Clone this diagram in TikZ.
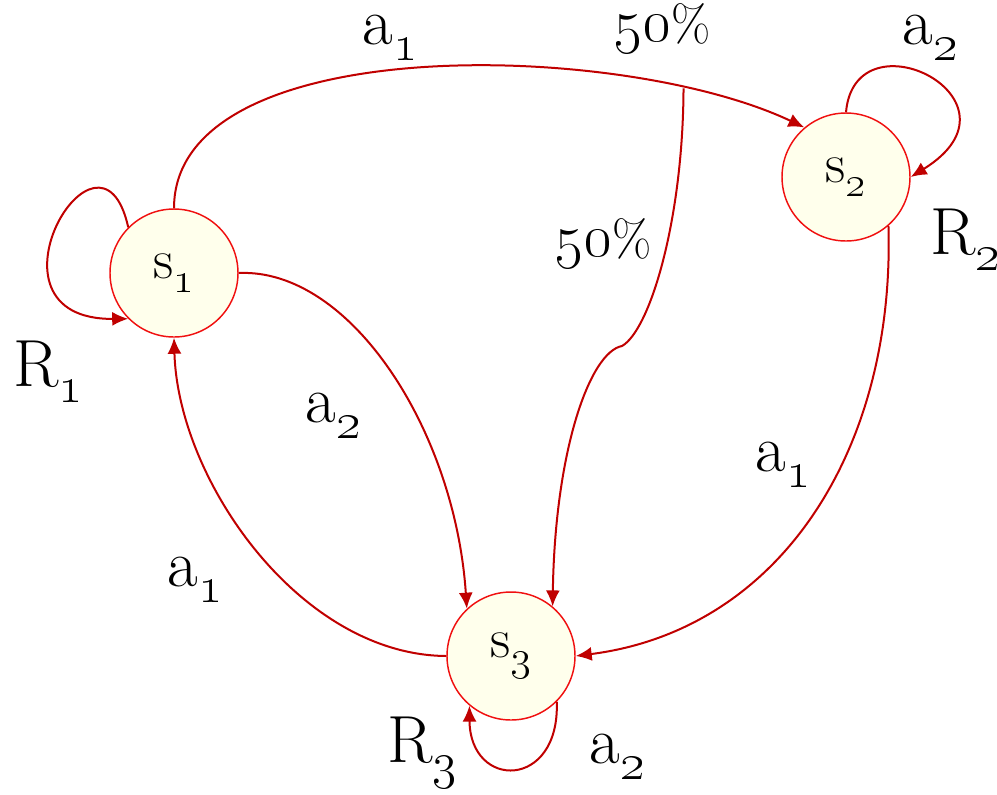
\documentclass[tikz,border=0pt]{standalone}
\usepackage{fix-cm}
\usepackage{tikz}
\usetikzlibrary{arrows.meta}
\definecolor{edgered}{RGB}{192,0,0}
\definecolor{ringred}{RGB}{240,16,16}
\definecolor{statefill}{RGB}{255,255,236}
\newcommand{\osf}[1]{{\fontencoding{TS1}\selectfont #1}}
\makeatletter
\newcommand{\osub}[1]{\raisebox{-0.24em}{\fontsize{\strip@pt\dimexpr0.78\dimexpr\f@size pt\relax\relax}{10}\selectfont\osf{#1}}}
\makeatother
\newcommand{\pct}[1]{\osf{#1}{\fontsize{38}{40}\selectfont\%}}

\begin{document}
\begin{tikzpicture}[x=0.75pt, y=-0.75pt,
  state/.style={circle, draw=ringred, line width=1.1pt, fill=statefill,
    minimum size=96pt, inner sep=0pt, font=\fontsize{42}{50}\selectfont},
  trans/.style={draw=edgered, line width=1.5pt, -{Latex[length=12pt,width=10.5pt]}},
  lbl/.style={font=\fontsize{50}{60}\selectfont, inner sep=0pt},
  pctlbl/.style={lbl, font=\fontsize{46}{56}\selectfont}]
  \useasboundingbox (0,0) rectangle (997,794);

  \node[state] (s1) at (174,273) {s\osub{1}};
  \node[state] (s2) at (846,177) {s\osub{2}};
  \node[state] (s3) at (511,656) {s\osub{3}};

  % self loops
  \draw[trans] (s1.135) .. controls (100,100) and (-30,320) .. (s1.225);
  \draw[trans] (s2.90) .. controls (855,10) and (1035,100) .. (s2.0);
  \draw[trans] (s3.-45) .. controls (560,790) and (470,790) .. (s3.-130);

  % a1 from s1, split 50% / 50%
  \draw[trans] (s1.90) .. controls (174,30) and (620,40) .. (s2.130)
    coordinate[pos=0.82] (split);
  \coordinate (kink) at (622,346);
  \draw[trans] (split) .. controls (683,220) and (650,330) .. (kink)
    .. controls (590,352) and (555,450) .. (s3.50);

  % other transitions
  \draw[trans] (s1.0) .. controls (350,268) and (455,430) .. (s3.133);
  \draw[trans] (s3.180) .. controls (300,655) and (178,480) .. (s1.270);
  \draw[trans] (s2.-49) .. controls (895,450) and (780,630) .. (s3.0);

  % labels
  \node[lbl] (l12) at (390,38) {a\osub{1}};
  \node[pctlbl] (p1) at (662,28) {\pct{50}};
  \node[pctlbl] (p2) at (603,243) {\pct{50}};
  \node[lbl] (l22) at (930,38) {a\osub{2}};
  \node[lbl] (r2) at (965,240) {R\osub{2}};
  \node[lbl] (r1) at (48,372) {R\osub{1}};
  \node[lbl] (l13) at (333,416) {a\osub{2}};
  \node[lbl] (l23) at (783,465) {a\osub{1}};
  \node[lbl] (l31) at (195,580) {a\osub{1}};
  \node[lbl] (r3) at (422,753) {R\osub{3}};
  \node[lbl] (l33) at (617,757) {a\osub{2}};
\end{tikzpicture}
\end{document}
